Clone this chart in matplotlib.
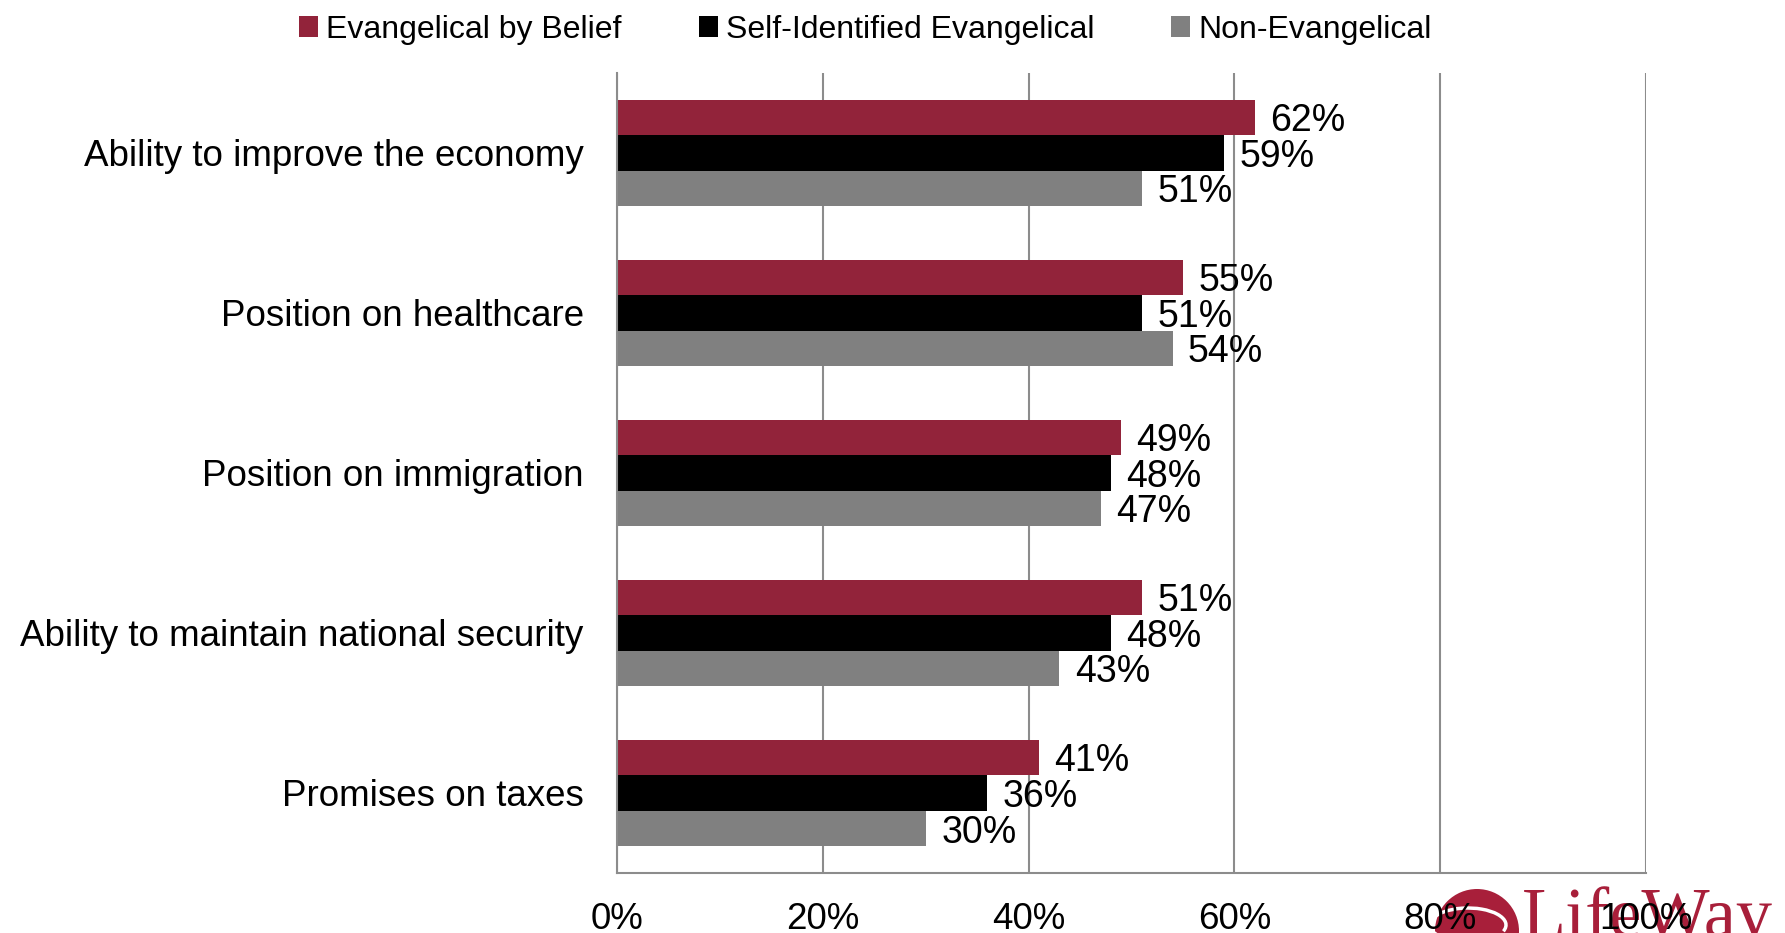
import matplotlib.pyplot as plt
from matplotlib.patches import Patch, Circle, Arc

plt.rcParams['font.family'] = ['Liberation Sans', 'DejaVu Sans']

categories = [
    "Ability to improve the economy",
    "Position on healthcare",
    "Position on immigration",
    "Ability to maintain national security",
    "Promises on taxes",
]
series_names = ["Evangelical by Belief", "Self-Identified Evangelical", "Non-Evangelical"]
evangelical_by_belief = [62, 55, 49, 51, 41]
self_identified = [59, 51, 48, 48, 36]
non_evangelical = [51, 54, 47, 43, 30]
x_ticks = [0, 20, 40, 60, 80, 100]

colors = ["#92233A", "#000000", "#808080"]
grid_color = "#8C8C8C"


def main():
    fig = plt.figure(figsize=(17.85, 9.33), dpi=100)
    ax = fig.add_axes([0.3457, 0.0643, 0.922 - 0.3457, 0.922 - 0.0643])
    ax.set_facecolor("none")

    bar_h = 0.222
    series = [evangelical_by_belief, self_identified, non_evangelical]
    for k, (vals, col) in enumerate(zip(series, colors)):
        ys = [i + (k - 1) * bar_h for i in range(len(categories))]
        ax.barh(ys, vals, height=bar_h, color=col, zorder=2)
        for y, v in zip(ys, vals):
            ax.text(v + 1.5, y, f"{v}%", va="center_baseline", ha="left",
                    fontsize=27, color="black", zorder=3)

    ax.set_xlim(0, 100)
    ax.set_ylim(len(categories) - 0.5, -0.5)
    ax.set_yticks(range(len(categories)))
    ax.set_yticklabels(categories, fontsize=26.5)
    ax.set_xticks(x_ticks)
    ax.set_xticklabels([f"{t}%" for t in x_ticks], fontsize=26.5)
    ax.tick_params(axis="y", length=0, pad=24)
    ax.tick_params(axis="x", length=0, pad=21)

    ax.grid(axis="x", color=grid_color, linewidth=1.5, zorder=0)
    for side in ["top", "right"]:
        ax.spines[side].set_visible(False)
    for side in ["left", "bottom"]:
        ax.spines[side].set_color(grid_color)
        ax.spines[side].set_linewidth(1.5)

    handles = [Patch(facecolor=c, edgecolor="none") for c in colors]
    fig.legend(handles, series_names, loc="center", bbox_to_anchor=(0.4848, 0.968),
               ncol=3, frameon=False, fontsize=23, handlelength=0.6,
               handleheight=0.6, handletextpad=0.25, columnspacing=2.4)

    # LifeWay logo peeking in at the lower right corner
    logo_red = "#A81F3A"
    fig.patches.append(Circle((1477, 2), 42, transform=None, facecolor=logo_red,
                              edgecolor="none", zorder=-2))
    fig.patches.append(Arc((1468, 8), 76, 34, theta1=-10, theta2=200, transform=None,
                           color="white", linewidth=2.5, zorder=-1))
    fig.text(1522 / 1785, -0.004, "LifeWay", fontsize=52, color=logo_red,
             family=["Liberation Serif", "DejaVu Serif"], ha="left", va="baseline",
             zorder=-2)

    fig.savefig("out.png", dpi=100)


if __name__ == "__main__":
    main()
